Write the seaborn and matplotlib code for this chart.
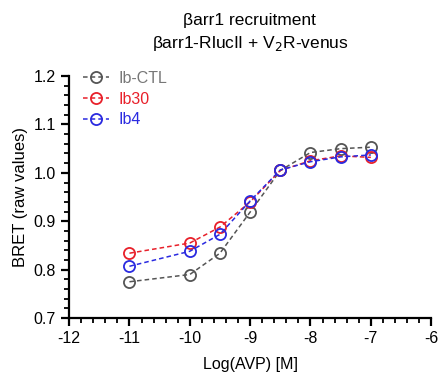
import numpy as np
import pandas as pd
import matplotlib
matplotlib.use("Agg")
import matplotlib.pyplot as plt
import seaborn as sns
from matplotlib.ticker import MultipleLocator

log_avp = [-11, -10, -9.5, -9, -8.5, -8, -7.5, -7]
ctl = [0.775, 0.790, 0.834, 0.919, 1.005, 1.042, 1.050, 1.053]
ib30 = [0.834, 0.855, 0.888, 0.940, 1.005, 1.025, 1.035, 1.032]
ib4 = [0.807, 0.838, 0.873, 0.942, 1.006, 1.023, 1.033, 1.037]
series_names = ["Ib-CTL", "Ib30", "Ib4"]
colors = ["#555555", "#e8202a", "#2a2ae0"]

df = pd.concat([
    pd.DataFrame({"x": log_avp, "y": v, "s": n})
    for n, v in zip(series_names, [ctl, ib30, ib4])
])

sns.set_theme(style="ticks")
plt.rcParams["font.family"] = ["Liberation Sans", "DejaVu Sans"]
plt.rcParams["text.color"] = "black"
plt.rcParams["axes.labelcolor"] = "black"

fig = plt.figure(figsize=(4.4, 3.86), dpi=100)
ax = fig.add_axes([0.157, 0.176, 0.823, 0.627])

for n, c in zip(series_names, colors):
    sns.lineplot(data=df[df.s == n], x="x", y="y", ax=ax, color=c,
                 linestyle=(0, (3, 2)), linewidth=1.1, marker="o",
                 markersize=8, markerfacecolor="none", markeredgecolor=c,
                 markeredgewidth=1.3, label=n)

ax.set_xlim(-12, -6)
ax.set_ylim(0.7, 1.2)
ax.xaxis.set_major_locator(MultipleLocator(1))
ax.xaxis.set_minor_locator(MultipleLocator(0.2))
ax.yaxis.set_major_locator(MultipleLocator(0.1))
ax.yaxis.set_minor_locator(MultipleLocator(0.02))
ax.set_xticks(range(-12, -5))
ax.set_xticklabels([str(t) for t in range(-12, -5)])
ax.yaxis.set_major_formatter(matplotlib.ticker.FormatStrFormatter("%.1f"))
for s in ["top", "right"]:
    ax.spines[s].set_visible(False)
for s in ["left", "bottom"]:
    ax.spines[s].set_linewidth(1.6)
    ax.spines[s].set_color("black")
ax.tick_params(which="major", length=6, width=1.6, labelsize=11.5, colors="black")
ax.tick_params(which="minor", length=3.5, width=1.3, colors="black")
ax.set_xlabel("Log(AVP) [M]", fontsize=11.5, labelpad=8)
ax.set_ylabel("BRET (raw values)", fontsize=12, labelpad=4)

leg = ax.legend(loc="upper left", frameon=False, fontsize=11.5,
                bbox_to_anchor=(0.0, 1.08), handlelength=1.6,
                handletextpad=0.6, labelspacing=0.35)
for t, c in zip(leg.get_texts(), ["#777777", colors[1], colors[2]]):
    t.set_color(c)

fig.text(0.568, 0.947, "βarr1 recruitment", ha="center", va="center", fontsize=12.5)
fig.text(0.568, 0.888, "βarr1-RlucII + V$_2$R-venus", ha="center", va="center", fontsize=12.5)

fig.savefig("out.png", dpi=100)
